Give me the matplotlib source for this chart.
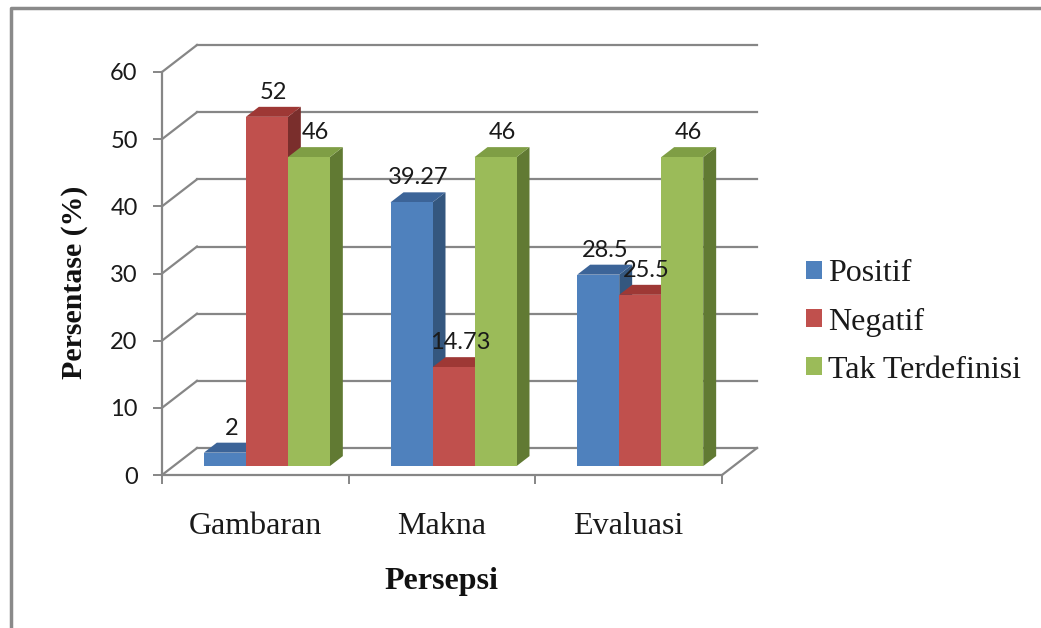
import matplotlib
matplotlib.use("Agg")
import numpy as np
import matplotlib.pyplot as plt
from matplotlib.transforms import Affine2D, IdentityTransform
from matplotlib.patches import Polygon, Patch
from matplotlib.lines import Line2D

# ---------------- data ----------------
categories = ["Gambaran", "Makna", "Evaluasi"]
series_names = ["Positif", "Negatif", "Tak Terdefinisi"]
positif = [2, 39.27, 28.5]
negatif = [52, 14.73, 25.5]
tak_terdefinisi = [46, 46, 46]
yticks = [0, 10, 20, 30, 40, 50, 60]
ylabel = "Persentase (%)"
xlabel = "Persepsi"

# ---------------- style ----------------
W, H, DPI = 1041, 628, 100
GRID = "#868686"
FRONT = ["#4F81BD", "#C0504D", "#9BBB59"]
TOP = ["#3C6498", "#9E3835", "#7F9E45"]
SIDE = ["#34577F", "#7A2E2C", "#617A33"]
DX, DY = 35, 27          # full depth offset (px)
F0, FB = 0.33, 0.37      # bar front plane, bar depth (fractions)
BW = 0.225               # bar width (category units)
NUM_FONT = "Lato"
SERIF = "Liberation Serif"
NUM_SIZE = 17

fig = plt.figure(figsize=(W / DPI, H / DPI), dpi=DPI)
fig.patch.set_facecolor("white")
ax = fig.add_axes([162 / W, (H - 475) / H, 560 / W, 403 / H])
ax.set_xlim(-0.5, 2.5)
ax.set_ylim(0, 60)
ax.patch.set_visible(False)

ident = IdentityTransform()


def P(x, v, f):
    p = ax.transData.transform((x, v))
    return (p[0] + DX * f, p[1] + DY * f)


def depth(f):
    return ax.transData + Affine2D().translate(DX * f, DY * f)


# back wall gridlines and left wall diagonals
for v in yticks:
    ax.plot([-0.5, 2.5], [v, v], transform=depth(1), color=GRID, lw=1.6,
            clip_on=False, zorder=1)
    a, b = P(-0.5, v, 0), P(-0.5, v, 1)
    ax.add_line(Line2D([a[0], b[0]], [a[1], b[1]], transform=ident,
                       color=GRID, lw=1.6, zorder=1, clip_on=False))
# floor right diagonal
a, b = P(2.5, 0, 0), P(2.5, 0, 1)
ax.add_line(Line2D([a[0], b[0]], [a[1], b[1]], transform=ident,
                   color=GRID, lw=1.6, zorder=1, clip_on=False))

# bars
data = [positif, negatif, tak_terdefinisi]
z = 2.0
for i, cat in enumerate(categories):
    for j, vals in enumerate(data):
        v = vals[i]
        xl = i + (j - 1) * BW - BW / 2
        xr = xl + BW
        # side face
        side = [P(xr, 0, F0), P(xr, 0, F0 + FB), P(xr, v, F0 + FB), P(xr, v, F0)]
        ax.add_patch(Polygon(side, closed=True, transform=ident, clip_on=False,
                             facecolor=SIDE[j], edgecolor="none", zorder=z))
        # top face
        top = [P(xl, v, F0), P(xr, v, F0), P(xr, v, F0 + FB), P(xl, v, F0 + FB)]
        ax.add_patch(Polygon(top, closed=True, transform=ident, clip_on=False,
                             facecolor=TOP[j], edgecolor="none", zorder=z))
        # front face
        ax.bar([xl + BW / 2], [v], width=BW, color=FRONT[j],
               transform=depth(F0), zorder=z + 0.001, clip_on=False)
        z += 0.01

# data labels
for i, cat in enumerate(categories):
    for j, vals in enumerate(data):
        v = vals[i]
        xc = i + (j - 1) * BW
        ax.text(xc, v, f"{v:g}", transform=depth(F0 + FB / 2) +
                Affine2D().translate(0, 13), ha="center", va="baseline",
                fontsize=NUM_SIZE, family=NUM_FONT, color="#1a1a1a", zorder=10,
                clip_on=False)

# axes styling
for s in ["top", "right"]:
    ax.spines[s].set_visible(False)
for s in ["left", "bottom"]:
    ax.spines[s].set_color(GRID)
    ax.spines[s].set_linewidth(1.6)
    ax.spines[s].set_zorder(1.5)

ax.set_yticks(yticks)
ax.set_yticklabels([str(t) for t in yticks], family=NUM_FONT, fontsize=NUM_SIZE,
                   color="#1a1a1a")
ax.tick_params(axis="y", direction="out", length=6.5, width=1.4, color=GRID,
               pad=11)
ax.set_xticks([-0.5, 0.5, 1.5, 2.5])
ax.set_xticklabels([])
ax.tick_params(axis="x", which="major", direction="out", length=6.5,
               width=1.4, color=GRID)
ax.set_xticks([0, 1, 2], minor=True)
ax.set_xticklabels(categories, minor=True, family=SERIF, fontsize=23,
                   color="#1a1a1a")
ax.tick_params(axis="x", which="minor", length=0, pad=27)

fig.text(75 / W, 1 - 282 / H, ylabel, rotation=90, ha="center", va="center",
         family=SERIF, fontweight="bold", fontsize=21.5, color="#111111")
fig.text(441 / W, 1 - 589 / H, xlabel, ha="center", va="baseline",
         family=SERIF, fontweight="bold", fontsize=23, color="#111111")

# legend
handles = [Patch(facecolor=c, edgecolor="none") for c in FRONT]
leg = fig.legend(handles, series_names, loc="center left",
                 bbox_to_anchor=(806 / W, 1 - 322 / H), frameon=False,
                 prop={"family": SERIF, "size": 23}, handlelength=0.5,
                 handleheight=0.5, handletextpad=0.2, labelspacing=0.6,
                 borderpad=0, borderaxespad=0)
for t in leg.get_texts():
    t.set_color("#1a1a1a")

# outer frame (cut off at right and bottom)
fig.add_artist(Line2D([11 / W, 11 / W, 1.0], [0.0, 1 - 8 / H, 1 - 8 / H],
                      transform=fig.transFigure, color="#8a8a8a", lw=2.5))

fig.savefig("out.png", dpi=DPI, facecolor="white")
